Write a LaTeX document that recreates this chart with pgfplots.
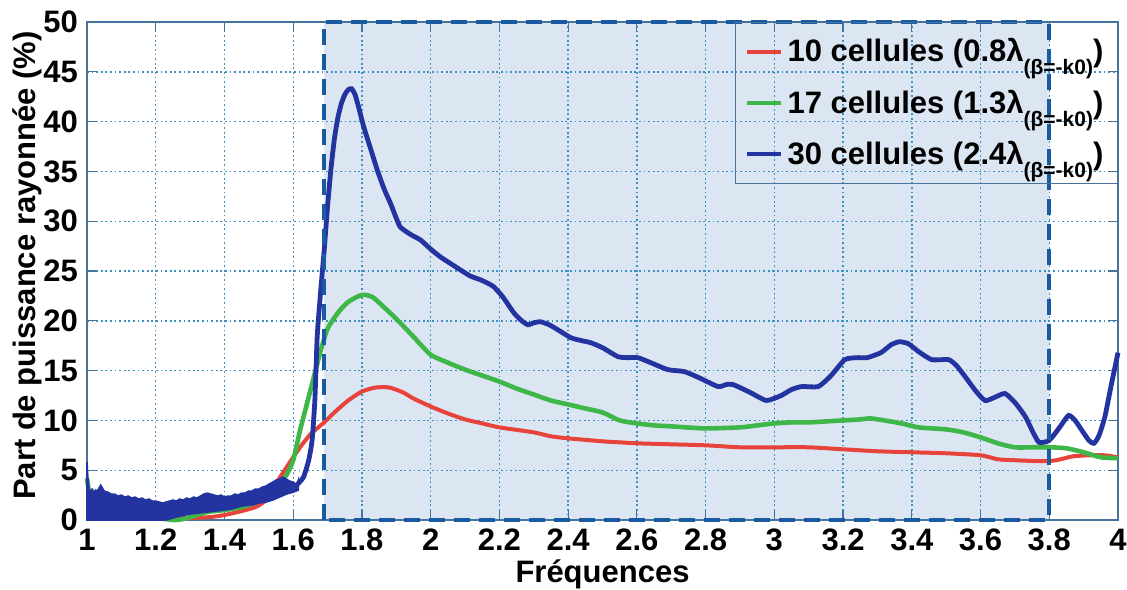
\documentclass[border=0pt]{standalone}
\usepackage{pgfplots}
\pgfplotsset{compat=1.18}
\usepackage{fontspec}
\setmainfont{Liberation Sans}
\definecolor{cred}{RGB}{230,68,58}
\definecolor{cgreen}{RGB}{62,182,72}
\definecolor{cblue}{RGB}{35,52,160}
\definecolor{shade}{RGB}{220,230,242}
\definecolor{gridc}{RGB}{60,145,195}
\definecolor{framec}{RGB}{70,115,155}
\definecolor{dashc}{RGB}{25,90,160}
\newcommand{\sub}[1]{\raisebox{-0.8ex}{\fontsize{10.5}{10.5}\selectfont #1}}
\begin{document}
\begin{tikzpicture}
\begin{axis}[
  at={(0pt,0pt)}, anchor=south west,
  set layers,
  scale only axis, width=515.5pt, height=249pt,
  xmin=1, xmax=4, ymin=0, ymax=50,
  clip=false,
  xtick={1,1.2,1.4,1.6,1.8,2,2.2,2.4,2.6,2.8,3,3.2,3.4,3.6,3.8,4},
  xticklabels={1,1.2,1.4,1.6,1.8,2,2.2,2.4,2.6,2.8,3,3.2,3.4,3.6,3.8,4},
  ytick={0,5,10,15,20,25,30,35,40,45,50},
  yticklabels={0,5,10,15,20,25,30,35,40,45,50},
  tick align=inside, major tick length=5pt,
  tick style={color=framec, line width=0.6pt},
  axis line style={color=framec, line width=0.8pt},
  grid=major,
  grid style={color=gridc, line width=0.7pt, dash pattern=on 0.9pt off 1.4pt},
  ticklabel style={font=\fontsize{15.5}{15.5}\selectfont\bfseries},
  xticklabel style={yshift=-1pt},
  yticklabel style={xshift=-1pt},
  xlabel={Fréquences},
  ylabel={Part de puissance rayonnée (\%)},
  xlabel style={font=\fontsize{15.5}{15.5}\selectfont\bfseries, at={(axis description cs:0.5,-0.1265)}, anchor=base},
  ylabel style={font=\fontsize{15.5}{15.5}\selectfont\bfseries, at={(axis description cs:-0.058,0.511)}, anchor=center},
  legend style={at={(1,1)}, anchor=north east, draw=framec, fill=none, line width=0.6pt,
    font=\fontsize{15.5}{15.5}\selectfont\bfseries, inner xsep=5pt, inner ysep=6pt, row sep=8.5pt,
    cells={anchor=west}},
  legend image code/.code={\draw[#1, line width=2.2pt] (0pt,0pt) -- (17pt,0pt);},
]
% shaded region
\addplot[fill=shade, draw=none, forget plot, on layer=axis background]
  coordinates {(1.69,0) (1.69,50) (3.8,50) (3.8,0) (1.69,0)};

% red: 10 cellules
\addplot[color=cred, line width=2pt, smooth, tension=0.4] coordinates {
(1.0,1.0) (1.1,0.5) (1.2,0.2) (1.3,0.2) (1.36,0.3) (1.4,0.5) (1.45,0.9) (1.49,1.3)
(1.52,2.0) (1.56,4.2) (1.6,6.3) (1.62,7.3) (1.65,8.6) (1.69,9.8) (1.72,10.8) (1.76,12.0)
(1.8,12.9) (1.84,13.3) (1.88,13.3) (1.92,12.8) (1.95,12.2) (2.0,11.4) (2.05,10.7) (2.1,10.1)
(2.15,9.7) (2.2,9.3) (2.3,8.8) (2.35,8.4) (2.4,8.2) (2.5,7.9) (2.55,7.8) (2.6,7.7) (2.7,7.6)
(2.8,7.5) (2.9,7.3) (3.0,7.3) (3.1,7.3) (3.2,7.1) (3.3,6.9) (3.4,6.8) (3.5,6.7) (3.6,6.5)
(3.65,6.1) (3.7,6.0) (3.78,5.9) (3.82,6.0) (3.87,6.4) (3.92,6.5) (3.96,6.5) (4.0,6.3)
};
\addlegendentry{10 cellules (0.8λ\sub{(β=-k0)})}

% green: 17 cellules
\addplot[color=cgreen, line width=2.3pt, smooth, tension=0.4] coordinates {
(1.0,4.2) (1.005,3.0) (1.01,2.0) (1.05,1.8) (1.1,1.2) (1.2,0.3) (1.25,0) (1.28,0.1) (1.3,0.3)
(1.35,0.8) (1.4,1.0) (1.45,1.3) (1.5,1.9) (1.55,3.2) (1.58,4.5) (1.6,6.0) (1.62,9.0) (1.65,13)
(1.68,17) (1.70,19.2) (1.73,20.8) (1.76,21.9) (1.80,22.6) (1.83,22.4) (1.86,21.5) (1.9,20.2)
(1.95,18.4) (2.0,16.6) (2.05,15.8) (2.1,15.1) (2.15,14.5) (2.2,13.9) (2.25,13.2) (2.3,12.6)
(2.35,12.0) (2.4,11.6) (2.45,11.2) (2.5,10.8) (2.55,10.0) (2.6,9.7) (2.65,9.5) (2.7,9.4)
(2.8,9.2) (2.9,9.3) (2.95,9.5) (3.0,9.7) (3.05,9.8) (3.1,9.8) (3.15,9.9) (3.2,10.0) (3.25,10.1)
(3.28,10.2) (3.32,10.0) (3.37,9.7) (3.42,9.3) (3.5,9.1) (3.55,8.8) (3.6,8.3) (3.65,7.7)
(3.7,7.3) (3.75,7.3) (3.8,7.3) (3.85,7.2) (3.9,6.8) (3.95,6.3) (4.0,6.2)
};
\addlegendentry{17 cellules (1.3λ\sub{(β=-k0)})}

% blue noisy band at low frequency
\addplot[fill=cblue, draw=cblue, line width=0.8pt, forget plot] coordinates {
(1.000,5.8) (1.003,4.0) (1.006,3.0) (1.010,2.9) (1.015,3.1) (1.020,2.8) (1.025,3.0) (1.030,2.9)
(1.035,3.2) (1.040,3.5) (1.045,3.2) (1.050,2.9) (1.060,2.8) (1.070,2.6) (1.080,2.6) (1.090,2.4)
(1.100,2.5) (1.110,2.3) (1.120,2.4) (1.130,2.2) (1.140,2.3) (1.150,2.1) (1.160,2.2) (1.170,2.0)
(1.180,2.1) (1.190,1.9) (1.200,1.9) (1.210,1.8) (1.220,1.7) (1.230,1.8) (1.240,1.9) (1.250,2.0)
(1.260,1.9) (1.270,2.1) (1.280,2.0) (1.290,2.2) (1.300,2.1) (1.310,2.3) (1.320,2.2) (1.330,2.4)
(1.340,2.6) (1.350,2.7) (1.360,2.6) (1.370,2.5) (1.380,2.4) (1.390,2.5) (1.400,2.3) (1.410,2.4)
(1.420,2.4) (1.430,2.6) (1.440,2.5) (1.450,2.7) (1.460,2.7) (1.470,2.9) (1.480,2.9) (1.490,3.1)
(1.500,3.1) (1.510,3.3) (1.520,3.4) (1.530,3.6) (1.540,3.8) (1.550,4.0) (1.560,4.1) (1.570,4.3)
(1.580,4.1) (1.590,3.9) (1.600,3.8) (1.610,3.5) (1.615,4.0)
(1.615,3.0) (1.600,2.8) (1.580,2.6) (1.560,2.3) (1.540,2.0) (1.520,1.8) (1.500,1.7) (1.480,1.5)
(1.450,1.4) (1.420,1.1) (1.400,1.0) (1.350,0.8) (1.300,0.6) (1.260,0.3) (1.230,0) (1.000,0)
(1.000,5.8)
};

% blue: 30 cellules
\addplot[color=cblue, line width=2.4pt, smooth, tension=0.35] coordinates {
(1.61,3.5) (1.63,4.3) (1.645,6.0) (1.655,8.0) (1.663,12) (1.670,18.5) (1.680,23) (1.69,27)
(1.70,31.5) (1.71,35.3) (1.72,38.3) (1.73,40.4) (1.74,41.8) (1.75,42.7) (1.76,43.2) (1.77,43.3)
(1.78,42.7) (1.79,41.5) (1.805,39.5) (1.825,37.3) (1.845,35.1) (1.865,33.2)
(1.883,31.8) (1.9,30.3) (1.912,29.4) (1.94,28.7) (1.971,28.1) (2.0,27.2) (2.029,26.4)
(2.06,25.7) (2.087,25.1) (2.115,24.5) (2.146,24.1) (2.17,23.7) (2.184,23.4) (2.21,22.4)
(2.242,20.8) (2.265,20.0) (2.283,19.6) (2.3,19.8) (2.32,19.9) (2.345,19.6) (2.37,19.1)
(2.408,18.3) (2.44,18.0) (2.466,17.8) (2.5,17.3) (2.545,16.4) (2.575,16.3) (2.603,16.3)
(2.64,15.8) (2.69,15.1) (2.738,14.9) (2.78,14.3) (2.836,13.4) (2.86,13.6) (2.88,13.6)
(2.93,12.8) (2.977,12.0) (3.02,12.5) (3.05,13.1) (3.08,13.4) (3.128,13.4) (3.165,14.5)
(3.205,16.1) (3.24,16.3) (3.27,16.3) (3.31,16.8) (3.34,17.6) (3.364,17.9) (3.39,17.7)
(3.42,16.9) (3.458,16.1) (3.507,16.1) (3.53,15.5) (3.555,14.4) (3.585,13.0) (3.613,12.0)
(3.64,12.3) (3.671,12.7) (3.70,11.8) (3.73,10.4) (3.75,9.0) (3.77,7.8) (3.80,8.0) (3.83,9.3)
(3.856,10.5) (3.875,10.0) (3.895,9.0) (3.915,8.0) (3.93,7.7) (3.945,8.5) (3.962,10.4)
(3.98,13.5) (4.0,16.8)
};
\addlegendentry{30 cellules (2.4λ\sub{(β=-k0)})}

% dashed frame of the shaded band
\addplot[color=dashc, line width=1.8pt, dash pattern=on 8pt off 4.5pt, forget plot]
  coordinates {(1.69,0) (1.69,50) (3.8,50) (3.8,0) (1.69,0)};
\end{axis}
\pgfresetboundingbox
\path[use as bounding box] (-43.5pt,-34.5pt) rectangle (520pt,260pt);
\end{tikzpicture}
\end{document}
